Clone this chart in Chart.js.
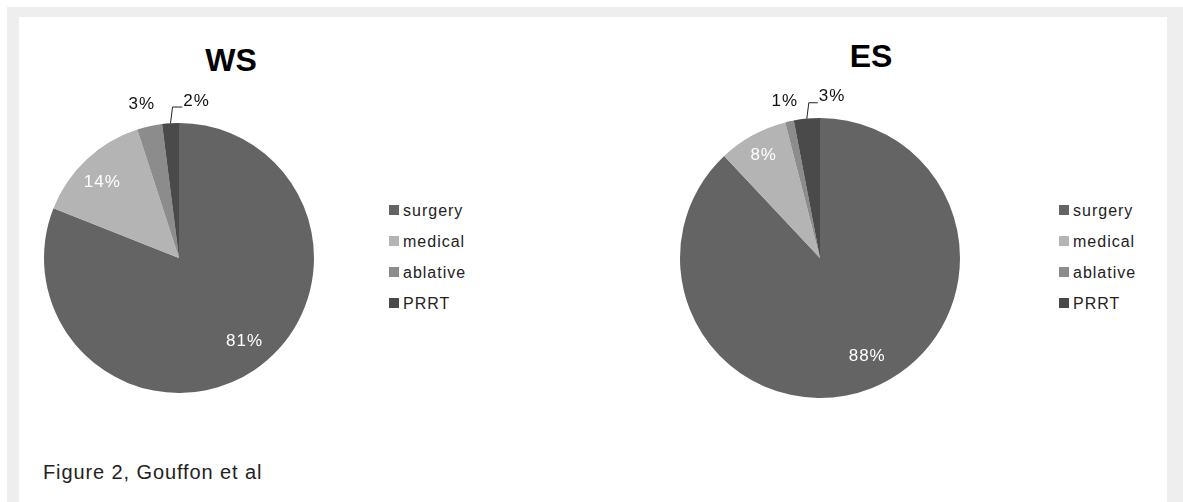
<!DOCTYPE html>
<html>
<head>
<meta charset="utf-8">
<script src="https://cdn.jsdelivr.net/npm/chart.js@4.4.1/dist/chart.umd.min.js"></script>
<style>
  html, body { margin:0; padding:0; background:#ffffff; }
  #page { position:relative; width:1183px; height:502px; overflow:hidden; background:#ffffff;
          font-family:"Liberation Sans", Arial, sans-serif; }
  #frame { position:absolute; left:7px; top:7px; width:1176px; height:495px; background:#eeeeee; }
  #panel { position:absolute; left:19px; top:17px; width:1148px; height:485px; background:#ffffff; }
  canvas { position:absolute; }
  .title { position:absolute; font-weight:bold; font-size:32px; line-height:32px; color:#000;
           transform:translateX(-50%); white-space:nowrap; }
  .legend-row { position:absolute; height:18px; display:flex; align-items:center; font-size:16px;
                line-height:18px; letter-spacing:1px; color:#222; white-space:nowrap; }
  .legend-box { width:10px; height:10px; margin-right:4px; margin-top:-2px; }
  #footer { position:absolute; left:43px; top:462px; font-size:20px; line-height:20px;
            letter-spacing:0.9px; color:#222; white-space:nowrap; }
</style>
</head>
<body>
<div id="page">
  <div id="frame"></div>
  <div id="panel"></div>
  <canvas id="wsChart" width="340" height="360" style="left:9px; top:78px;"></canvas>
  <canvas id="esChart" width="350" height="360" style="left:645px; top:78px;"></canvas>
  <div id="wsTitle" class="title" style="left:231px; top:44px;"></div>
  <div id="esTitle" class="title" style="left:871px; top:40px;"></div>
  <div id="wsLegend"></div>
  <div id="esLegend"></div>
  <div id="footer"></div>
</div>
<script>
// ---- data ----
const categories = ['surgery', 'medical', 'ablative', 'PRRT'];
const wsValues = [81, 14, 3, 2];
const esValues = [88, 8, 1, 3];
const chartTitles = ['WS', 'ES'];
const footerText = 'Figure 2, Gouffon et al';

// ---- styles ----
const sliceColors = ['#646464', '#b4b4b4', '#8c8c8c', '#4a4a4a'];
const wsPlacement = [
  { f: 0.785, shift: -4 }, { f: 0.8, shift: -2 }, { f: 1.17, shift: -1 }, { f: 1.17, shift: 10, leader: true }
];
const esPlacement = [
  { f: 0.78, shift: -4 }, { f: 0.835, shift: 0 }, { f: 1.15, shift: 0 }, { f: 1.155, shift: 9.7, leader: true }
];

const sliceLabels = {
  id: 'sliceLabels',
  afterDatasetsDraw(chart, args, opts) {
    const ctx = chart.ctx;
    const meta = chart.getDatasetMeta(0);
    const data = chart.data.datasets[0].data;
    meta.data.forEach((arc, i) => {
      const p = arc.getProps(['x', 'y', 'startAngle', 'endAngle', 'outerRadius'], true);
      const place = opts.placement[i];
      const mid = (p.startAngle + p.endAngle) / 2;
      const a = mid + place.shift * Math.PI / 180;
      const r = p.outerRadius * place.f;
      const lx = p.x + Math.cos(a) * r;
      const ly = p.y + Math.sin(a) * r;
      const text = data[i] + '%';
      ctx.save();
      ctx.font = '17px "Liberation Sans", Arial, sans-serif';
      if ('letterSpacing' in ctx) ctx.letterSpacing = '1px';
      ctx.fillStyle = place.f < 1 ? '#ffffff' : '#111111';
      ctx.textAlign = 'center';
      ctx.textBaseline = 'middle';
      ctx.fillText(text, lx, ly);
      if (place.leader) {
        const w = ctx.measureText(text).width;
        const ex = p.x + Math.cos(mid) * p.outerRadius;
        const ey = p.y + Math.sin(mid) * p.outerRadius;
        ctx.beginPath();
        ctx.moveTo(ex, ey);
        ctx.lineTo(ex + 2, ly + 6);
        ctx.lineTo(lx - w / 2 - 1, ly + 6);
        ctx.strokeStyle = '#222222';
        ctx.lineWidth = 1;
        ctx.stroke();
      }
      ctx.restore();
    });
  }
};

function makePie(id, values, placement, padding) {
  return new Chart(document.getElementById(id), {
    type: 'pie',
    data: {
      labels: categories,
      datasets: [{ data: values, backgroundColor: sliceColors, borderWidth: 0 }]
    },
    options: {
      responsive: false,
      animation: false,
      devicePixelRatio: 1,
      layout: { padding: padding },
      plugins: {
        legend: { display: false },
        tooltip: { enabled: false },
        sliceLabels: { placement: placement }
      }
    },
    plugins: [sliceLabels]
  });
}

makePie('wsChart', wsValues, wsPlacement, { left: 35, right: 35, top: 45, bottom: 45 });
makePie('esChart', esValues, esPlacement, { left: 35, right: 35, top: 40, bottom: 40 });

document.getElementById('wsTitle').textContent = chartTitles[0];
document.getElementById('esTitle').textContent = chartTitles[1];
document.getElementById('footer').textContent = footerText;

function buildLegend(id, left) {
  const host = document.getElementById(id);
  categories.forEach((c, i) => {
    const row = document.createElement('div');
    row.className = 'legend-row';
    row.style.left = left + 'px';
    row.style.top = (202 + 31 * i) + 'px';
    const box = document.createElement('span');
    box.className = 'legend-box';
    box.style.background = sliceColors[i];
    const t = document.createElement('span');
    t.textContent = c;
    row.appendChild(box);
    row.appendChild(t);
    host.appendChild(row);
  });
}
buildLegend('wsLegend', 389);
buildLegend('esLegend', 1059);
</script>
</body>
</html>
